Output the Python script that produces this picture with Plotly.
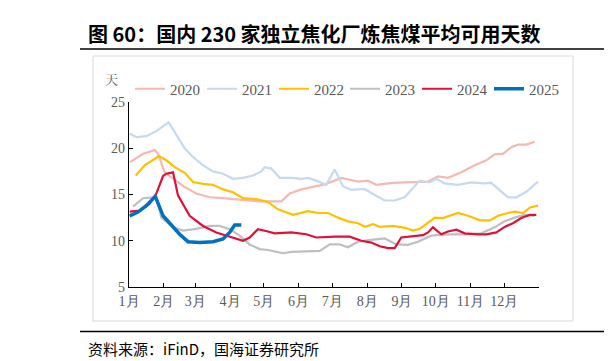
import plotly.graph_objects as go

# ---- data (x = day of year, y = days of coking coal available) ----
x2020 = [1, 12.5, 22.9, 25.8, 31.8, 39.2, 49.6, 59.9, 71.8, 83.7, 95.5, 107.4, 116.3, 135.6, 143.1, 153.4,
         165.3, 174.2, 183.1, 189.0, 196.5, 203.9, 212.8, 220.1, 227.6, 235.0, 245.4, 266.2, 275.1, 284.0,
         295.8, 307.7, 318.1, 325.5, 332.9, 340.3, 346.3, 353.7, 361.2]
y2020 = [18.5, 19.4, 19.8, 19.4, 17.4, 16.7, 15.8, 15.1, 14.7, 14.6, 14.45, 14.35, 14.25, 14.25, 15.1, 15.55,
         15.9, 16.1, 16.5, 16.8, 16.6, 16.4, 16.5, 16.05, 16.15, 16.25, 16.3, 16.4, 16.95, 16.8,
         17.4, 18.15, 18.7, 19.35, 19.4, 20.1, 20.4, 20.4, 20.7]

x2021 = [0.6, 6.5, 15.4, 24.3, 35.3, 42.1, 49.6, 57.0, 65.9, 74.8, 83.7, 92.6, 101.5, 110.4, 117.8, 120.8,
         126.7, 134.2, 144.5, 153.4, 159.3, 166.7, 175.6, 183.1, 190.5, 197.9, 209.8, 217.2, 227.6, 236.5,
         245.4, 258.8, 267.7, 273.6, 281.0, 292.9, 304.7, 315.1, 322.5, 337.4, 344.8, 353.7, 364.1]
y2021 = [21.6, 21.2, 21.3, 21.85, 22.8, 21.4, 20.0, 19.05, 18.15, 17.5, 17.25, 16.7, 16.8, 17.05, 17.5, 17.95,
         17.8, 16.8, 16.8, 16.7, 16.8, 16.5, 16.05, 17.7, 15.9, 15.5, 15.6, 15.05, 14.35, 14.35,
         14.7, 16.5, 16.3, 16.7, 16.2, 16.05, 16.3, 16.2, 16.25, 14.7, 14.7, 15.3, 16.4]

x2022 = [6.0, 14.0, 26.7, 33.2, 40.7, 49.6, 57.0, 65.9, 74.8, 83.7, 92.6, 101.5, 113.3, 123.7, 132.6, 146.0,
         159.3, 168.2, 177.2, 186.1, 195.0, 203.9, 210.1, 217.2, 223.4, 235.0, 245.7, 252.8, 259.0, 266.2,
         272.4, 279.5, 292.9, 301.8, 312.5, 321.4, 328.5, 337.4, 343.6, 350.7, 357.0, 364.1]
y2022 = [17.05, 18.15, 19.15, 18.7, 17.95, 17.35, 16.35, 16.15, 16.05, 15.55, 15.25, 14.6, 14.5, 14.2, 13.4, 12.8,
         13.2, 13.0, 13.0, 12.5, 12.1, 11.9, 11.5, 11.8, 11.5, 11.6, 11.4, 11.1, 11.3, 11.9,
         12.5, 12.45, 13.0, 12.7, 12.2, 12.2, 12.7, 13.0, 13.15, 13.0, 13.6, 13.8]

x2023 = [3.6, 12.5, 21.4, 24.5, 28.8, 39.2, 48.1, 58.5, 71.8, 80.7, 89.6, 98.5, 107.4, 116.3, 123.7, 137.1,
         144.5, 159.3, 169.8, 178.7, 187.6, 195.0, 203.9, 215.7, 227.6, 238.0, 248.4, 257.3, 269.1, 284.0,
         298.8, 313.6, 325.5, 334.4, 343.4, 352.3, 361.2]
y2023 = [13.7, 14.6, 14.7, 14.7, 12.5, 11.45, 11.1, 11.25, 11.6, 11.6, 11.25, 10.55, 9.6, 9.1, 9.0, 8.65,
         8.8, 8.85, 8.9, 9.6, 9.6, 9.3, 9.9, 10.1, 10.25, 9.6, 9.55, 9.9, 10.55, 10.7,
         10.7, 10.8, 11.45, 12.1, 12.5, 12.8, 12.7]

x2024 = [0.6, 9.5, 18.4, 24.3, 30.3, 33.2, 39.2, 43.6, 54.0, 65.9, 77.7, 89.6, 101.5, 107.4, 114.8, 123.7,
         129.7, 144.5, 157.8, 166.7, 183.1, 196.5, 206.8, 215.7, 223.2, 230.6, 236.5, 242.4, 251.3, 261.7,
         266.2, 270.6, 278.0, 284.0, 291.4, 298.8, 310.7, 318.1, 327.0, 334.4, 341.8, 349.2, 356.7, 362.6]
y2024 = [13.15, 13.25, 14.0, 15.1, 17.0, 17.25, 17.4, 14.9, 12.7, 11.6, 10.9, 10.45, 10.0, 10.35, 11.25, 11.0,
         10.8, 10.9, 10.7, 10.35, 10.45, 10.45, 10.0, 9.8, 9.4, 9.2, 9.2, 10.35, 10.45, 10.6,
         10.9, 11.45, 10.7, 11.0, 11.2, 10.8, 10.7, 10.7, 10.9, 11.5, 11.9, 12.45, 12.8, 12.8]

x2025 = [0.6, 8.0, 15.4, 23.4, 30.3, 39.2, 45.1, 52.5, 62.9, 74.8, 83.7, 89.6, 94.1, 100.0]
y2025 = [12.7, 13.1, 13.8, 14.8, 12.7, 11.45, 10.7, 9.9, 9.8, 9.9, 10.2, 10.9, 11.7, 11.7]

month_days = [0, 31, 59, 90, 120, 151, 181, 212, 243, 273, 304, 334]
month_labels = ["1月", "2月", "3月", "4月", "5月", "6月", "7月", "8月", "9月", "10月", "11月", "12月"]

series = [
    ("2020", x2020, y2020, "#F4B9B2", 2.2, "legend"),
    ("2021", x2021, y2021, "#C6D9F1", 2.2, "legend"),
    ("2022", x2022, y2022, "#FFC000", 2.2, "legend"),
    ("2023", x2023, y2023, "#BFBFBF", 2.2, "legend2"),
    ("2024", x2024, y2024, "#E0103A", 2.2, "legend2"),
    ("2025", x2025, y2025, "#0070C0", 3.5, "legend2"),
]

W, H = 612, 361
L, R, T, B = 121, 531, 94, 279


def px_x(p):
    return (p - L) / (R - L)


def px_y(p):
    return (B - p) / (B - T)


fig = go.Figure()
for name, xs, ys, col, w, lg in series:
    fig.add_trace(go.Scatter(x=xs, y=ys, name=name, mode="lines", legend=lg,
                             line=dict(color=col, width=w), hoverinfo="skip"))

serif = "Liberation Serif, Times New Roman, serif"
legend_common = dict(orientation="h", xanchor="left", yanchor="middle",
                     font=dict(family=serif, size=15, color="#595959"),
                     entrywidth=27, entrywidthmode="pixels",
                     bgcolor="rgba(0,0,0,0)", traceorder="normal")
fig.update_layout(
    width=W, height=H,
    margin=dict(l=L, r=W - R, t=T, b=H - B),
    paper_bgcolor="white", plot_bgcolor="white",
    showlegend=True,
    legend=dict(x=px_x(122), y=px_y(81), **legend_common),
    legend2=dict(x=px_x(337), y=px_y(81), **legend_common),
    xaxis=dict(range=[0, 365], tickvals=month_days, ticktext=month_labels, showgrid=False,
               zeroline=False, showline=True, linecolor="black", linewidth=1.3,
               ticks="inside", ticklen=4, tickcolor="black", tickwidth=1.2, ticklabelstandoff=1,
               tickfont=dict(family=serif, size=14, color="#595959")),
    yaxis=dict(range=[5, 25], dtick=5, showgrid=False, zeroline=False, showline=True,
               linecolor="black", linewidth=1.3, ticks="inside", ticklen=4, tickcolor="black",
               tickwidth=1.2, tickfont=dict(family=serif, size=14, color="#595959")),
)

# frame around chart
fig.add_shape(type="rect", xref="paper", yref="paper", x0=px_x(85), x1=px_x(565),
              y0=px_y(313), y1=px_y(48), line=dict(color="#D9D9D9", width=1), layer="below")
# header and footer rules
for yy in (41, 323.5):
    fig.add_shape(type="line", xref="paper", yref="paper", x0=px_x(72), x1=px_x(598),
                  y0=px_y(yy), y1=px_y(yy), line=dict(color="black", width=1.5))

annos = [
    dict(text="<b>图 60：国内 230 家独立焦化厂炼焦煤平均可用天数</b>", x=px_x(78), y=px_y(25),
         xanchor="left", yanchor="middle",
         font=dict(family="Noto Sans CJK SC", size=20, color="black")),
    dict(text="资料来源：iFinD，国海证券研究所", x=px_x(78), y=px_y(340), xanchor="left",
         yanchor="middle", font=dict(family="Noto Sans CJK SC", size=15, color="black")),
    dict(text="天", x=px_x(103), y=px_y(71), xanchor="center", yanchor="middle",
         font=dict(family="Noto Serif CJK SC, Noto Sans CJK SC", size=13, color="#595959")),
]
for a in annos:
    fig.add_annotation(xref="paper", yref="paper", showarrow=False, **a)

fig.write_html("out.html")
